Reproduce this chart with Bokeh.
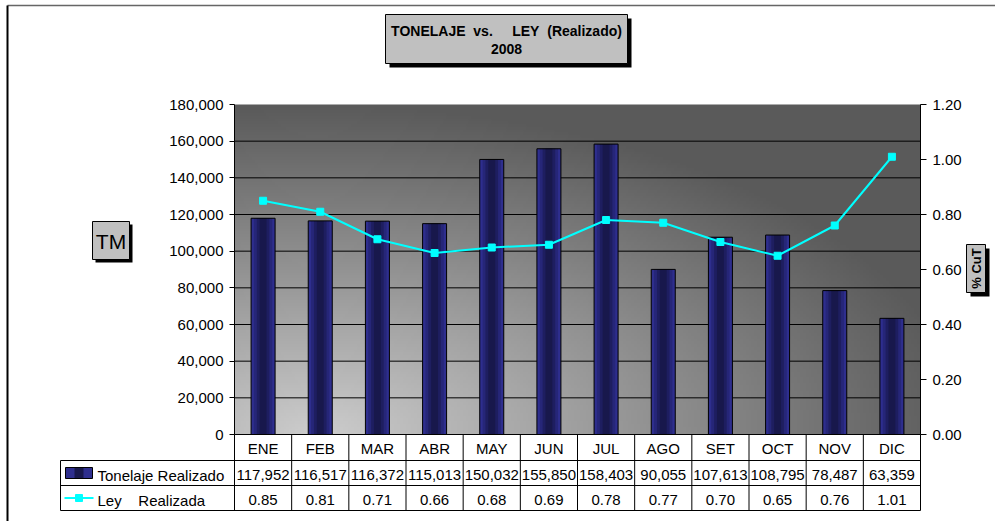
import numpy as np
from bokeh.plotting import figure
from bokeh.models import Range1d, LinearAxis, FixedTicker, NumeralTickFormatter, ColumnDataSource
from bokeh.embed import file_html
from bokeh.resources import INLINE
from bokeh.core.properties import value

# ---------------- data ----------------
months = ["ENE", "FEB", "MAR", "ABR", "MAY", "JUN", "JUL", "AGO", "SET", "OCT", "NOV", "DIC"]
tonelaje = [117952, 116517, 116372, 115013, 150032, 155850, 158403, 90055, 107613, 108795, 78487, 63359]
ley = [0.85, 0.81, 0.71, 0.66, 0.68, 0.69, 0.78, 0.77, 0.70, 0.65, 0.76, 1.01]
left_ticks = [0, 20000, 40000, 60000, 80000, 100000, 120000, 140000, 160000, 180000]
right_ticks = [0.0, 0.2, 0.4, 0.6, 0.8, 1.0, 1.2]
NB = "\u00a0"
title_line1 = "TONELAJE" + NB + " vs." + NB * 4 + " LEY" + NB + " (Realizado)"
title_line2 = "2008"
left_title = "TM"
right_title = "% CuT"
series_names = ["Tonelaje Realizado", "Ley" + NB * 3 + " Realizada"]

FONT = "Liberation Sans"
W, H = 995, 521
# chart area in page pixels
PL, PR, PT, PB = 234, 920, 104, 434
NCAT = len(months)
PXU = (PR - PL) / NCAT
YMAX = left_ticks[-1]
RMAX = right_ticks[-1]

def xd(px):
    return (px - PL) / PXU

def yd(py):
    return (PB - py) * YMAX / (PB - PT)

def rd(py):
    return (PB - py) * RMAX / (PB - PT)

xc = [i + 0.5 for i in range(NCAT)]
bounds = list(range(NCAT + 1))

p = figure(width=W, height=H, x_range=Range1d(xd(0), xd(W)), y_range=Range1d(yd(H), yd(0)),
           output_backend="svg", toolbar_location=None, x_axis_type=None, y_axis_type=None,
           min_border_left=0, min_border_right=0, min_border_top=0, min_border_bottom=0,
           outline_line_color=None, background_fill_color="white", border_fill_color="white")
p.xgrid.visible = False
p.ygrid.visible = False
p.extra_y_ranges = {"ley": Range1d(rd(H), rd(0))}

# outer chart border (top and left visible in the reference)
p.segment(x0=[xd(7)], y0=[yd(5)], x1=[xd(W)], y1=[yd(5)], line_color="#666666", line_width=1.5)
p.segment(x0=[xd(7)], y0=[yd(5)], x1=[xd(7)], y1=[yd(H)], line_color="black", line_width=2)

# ---------------- gradient background of plot area ----------------
nx, ny = 240, 120
u = (np.arange(nx) + 0.5) / nx
v = (np.arange(ny) + 0.5) / ny
U, V = np.meshgrid(u, v)
d = np.sqrt(((U - 0.12) / 0.95) ** 2 + V ** 2)
g = (90 + 115 * np.clip(1 - d, 0, 1)).astype(np.uint32)
img = ((255 << 24) | (g << 16) | (g << 8) | g).astype(np.uint32)
p.image_rgba(image=[img], x=0, y=0, dw=NCAT, dh=YMAX)

# horizontal grid lines at the left-axis ticks
gt = left_ticks[1:-1]
p.segment(x0=[0] * len(gt), y0=gt, x1=[NCAT] * len(gt), y1=gt, line_color="black", line_width=1)

# ---------------- axes (fixed inside the canvas) ----------------
def style_axis(ax):
    ax.axis_line_color = "black"
    ax.major_tick_line_color = "black"
    ax.minor_tick_line_color = None
    ax.major_label_text_font = FONT
    ax.major_label_text_font_size = "15px"
    ax.major_label_text_color = "black"
    ax.major_tick_in = 0

yl = LinearAxis(ticker=FixedTicker(ticks=left_ticks), formatter=NumeralTickFormatter(format="0,0"),
                fixed_location=0, bounds=(0, YMAX))
style_axis(yl)
yl.major_tick_out = 5
yl.major_label_standoff = 6
p.add_layout(yl, "left")

yr = LinearAxis(y_range_name="ley", ticker=FixedTicker(ticks=right_ticks),
                formatter=NumeralTickFormatter(format="0.00"), fixed_location=NCAT, bounds=(0, RMAX))
style_axis(yr)
yr.major_tick_out = 6
yr.major_label_standoff = 6
p.add_layout(yr, "right")

xa = LinearAxis(ticker=FixedTicker(ticks=xc), fixed_location=0, bounds=(0, NCAT),
                major_label_overrides={x: m for x, m in zip(xc, months)})
style_axis(xa)
xa.major_tick_line_color = None
xa.major_tick_out = 0
xa.major_label_standoff = 5
p.add_layout(xa, "below")

# ---------------- bars and line ----------------
src = ColumnDataSource(dict(x=xc, top=tonelaje, ley=ley))
p.vbar(x="x", top="top", bottom=0, width=0.42, source=src, fill_color="#2e2e8e", line_color=None)
for w, c in [(0.32, "#262678"), (0.22, "#1e1e60"), (0.12, "#18184c")]:
    p.vbar(x="x", top="top", bottom=0, width=w, source=src, fill_color=c, line_color=None)
p.vbar(x="x", top="top", bottom=0, width=0.42, source=src, fill_color=None, line_color="black", line_width=1)

p.line(x="x", y="ley", source=src, y_range_name="ley", line_color="#00ffff", line_width=2)
p.scatter(x="x", y="ley", source=src, y_range_name="ley", marker="square", size=7,
          fill_color="#00ffff", line_color="#00ffff")

# ---------------- boxes with shadow ----------------
def box(x0, y0, x1, y1, off):
    p.quad(left=[xd(x0 + off)], right=[xd(x1 + off)], top=[yd(y0 + off)], bottom=[yd(y1 + off)],
           fill_color="black", line_color=None)
    p.quad(left=[xd(x0)], right=[xd(x1)], top=[yd(y0)], bottom=[yd(y1)],
           fill_color="#c0c0c0", line_color="black", line_width=1)

box(385, 14, 627, 63, 4)
box(92, 221, 129, 259, 3)
box(966, 244, 985, 292, 4)

def txt(px, py, s, size, bold=False, align="center", angle=0.0):
    p.text(x=[xd(px)], y=[yd(py)], text=[s], text_font=value(FONT), text_font_size=size,
           text_font_style="bold" if bold else "normal", text_align=align, text_baseline="middle",
           text_color="black", angle=angle)

txt(506, 30, title_line1, "14px", bold=True)
txt(506, 48.5, title_line2, "14px", bold=True)
txt(110.5, 240.5, left_title, "21px")
txt(975.5, 268, right_title, "13px", bold=True, angle=np.pi / 2)

# ---------------- data table ----------------
TL = 60
R1, R2, R3 = 460, 485, 510
p.segment(x0=bounds, y0=[yd(PB)] * len(bounds), x1=bounds, y1=[yd(R3)] * len(bounds),
          line_color="black", line_width=1)
p.segment(x0=[xd(TL)], y0=[yd(R1)], x1=[xd(TL)], y1=[yd(R3)], line_color="black", line_width=1)
for ry in (R1, R2, R3):
    p.segment(x0=[xd(TL)], y0=[yd(ry)], x1=[NCAT], y1=[yd(ry)], line_color="black", line_width=1)

p.text(x=xc, y=[yd(474.5)] * NCAT, text=[f"{v:,}" for v in tonelaje], text_align="center",
       text_baseline="middle", text_font=value(FONT), text_font_size="15px", text_color="black")
p.text(x=xc, y=[yd(499.5)] * NCAT, text=[f"{v:.2f}" for v in ley], text_align="center",
       text_baseline="middle", text_font=value(FONT), text_font_size="15px", text_color="black")

# legend keys
p.quad(left=[xd(65)], right=[xd(92)], top=[yd(467)], bottom=[yd(478)], fill_color="#2e2e8e",
       line_color="black")
p.quad(left=[xd(74)], right=[xd(83)], top=[yd(467.5)], bottom=[yd(477.5)], fill_color="#18184c",
       line_color=None)
p.segment(x0=[xd(64)], y0=[yd(497.5)], x1=[xd(93)], y1=[yd(497.5)], line_color="#00ffff", line_width=2)
p.scatter(x=[xd(78.5)], y=[yd(497.5)], marker="square", size=7, fill_color="#00ffff",
          line_color="#00ffff")
p.text(x=[xd(97), xd(97)], y=[yd(474.5), yd(499.5)], text=series_names, text_align="left",
       text_baseline="middle", text_font=value(FONT), text_font_size="15px", text_color="black")

open("out.html", "w").write(file_html(p, INLINE))
